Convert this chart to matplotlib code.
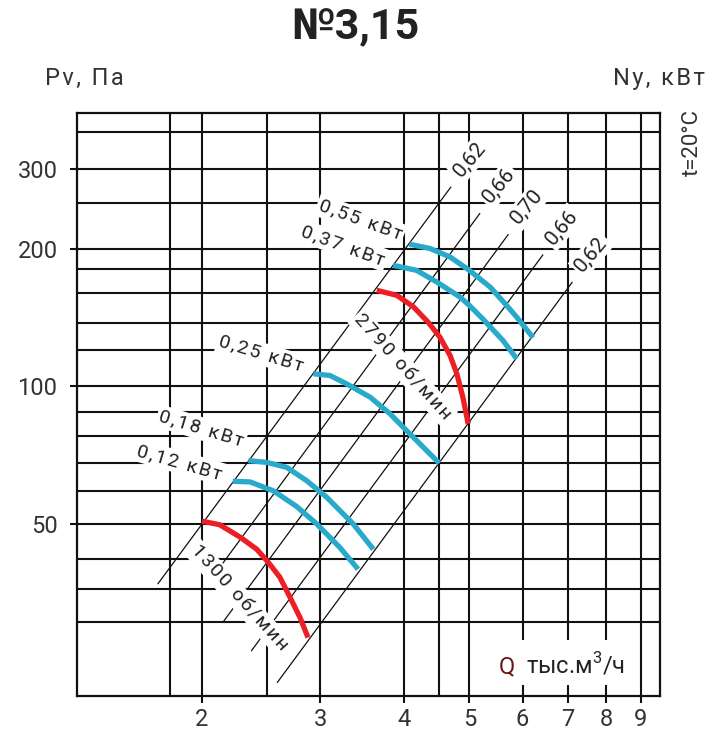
import matplotlib
matplotlib.use("Agg")
import matplotlib.pyplot as plt
from matplotlib.patches import Rectangle

plt.rcParams['font.family'] = ['Roboto', 'DejaVu Sans']
plt.rcParams['mathtext.fontset'] = 'custom'
plt.rcParams['mathtext.rm'] = 'Roboto'

# ---- axis layout values (Q, thousand m3/h ; Pv, Pa) ----
x_ticks = [2, 3, 4, 5, 6, 7, 8, 9]
y_ticks = [50, 100, 200, 300]
x_grid = [1.79, 2, 2.5, 3, 4, 4.5, 5, 6, 7, 8, 9]
y_grid = [30.5, 36, 42, 50, 59, 68, 78, 88, 100, 120, 138, 160, 181, 200, 252, 300, 360]

# ---- fan speed curves ----
rpm_labels = ['1300 об/мин', '2790 об/мин']
q_1300 = [2.00, 2.125, 2.278, 2.413, 2.51, 2.612, 2.705, 2.798, 2.876]
p_1300 = [50.7, 49.8, 46.8, 44.0, 41.2, 38.2, 34.5, 31.2, 28.2]
q_2790 = [3.64, 3.90, 4.13, 4.34, 4.52, 4.68, 4.79, 4.89, 4.98]
p_2790 = [162.4, 158.3, 149.3, 138.3, 128.2, 116.9, 106.6, 94.7, 82.8]

# ---- motor power curves ----
power_labels = ['0,12 кВт', '0,18 кВт', '0,25 кВт', '0,37 кВт', '0,55 кВт']
q_012 = [2.222, 2.358, 2.554, 2.766, 2.963, 3.208, 3.414]
p_012 = [62.0, 61.8, 59.1, 54.6, 50.0, 44.4, 39.8]
q_018 = [2.344, 2.496, 2.674, 2.862, 3.066, 3.358, 3.598]
p_018 = [68.8, 68.2, 66.5, 62.2, 57.2, 50.0, 44.0]
q_025 = [2.93, 3.10, 3.28, 3.56, 3.81, 4.03, 4.22, 4.51]
p_025 = [106.6, 105.7, 101.4, 94.7, 87.1, 80.1, 74.9, 67.9]
q_037 = [3.85, 4.17, 4.47, 4.84, 5.00, 5.25, 5.61, 5.88]
p_037 = [184.2, 179.6, 169.4, 157.0, 150.5, 140.0, 126.1, 115.0]
q_055 = [4.07, 4.37, 4.68, 5.00, 5.37, 5.68, 5.88, 6.22]
p_055 = [204.9, 200.5, 192.1, 179.6, 165.0, 150.5, 141.9, 127.9]

# ---- efficiency lines (start / end points) ----
eff_labels = ['0,62', '0,66', '0,70', '0,66', '0,62']
eff_q0 = [1.72, 2.10, 2.15, 2.37, 2.59]
eff_p0 = [37.0, 39.2, 30.5, 26.4, 22.5]
eff_q1 = [4.69, 5.18, 5.71, 6.43, 7.11]
eff_p1 = [273.0, 239.0, 215.0, 194.0, 169.0]

BLUE = '#2aaacb'
RED = '#ec2024'
INK = '#222222'
HAIR = '\u200a'


def spaced(s):
    """Loosen the letter spacing of a short label."""
    return HAIR.join(s)


fig = plt.figure(figsize=(7.10, 7.35), dpi=100)
ax = fig.add_axes([77 / 710, 1 - 696 / 735, 583 / 710, 583 / 735])
ax.set_xscale('log')
ax.set_yscale('log')
ax.set_xlim(1.303, 9.61)
ax.set_ylim(21.0, 397.0)

for s in ax.spines.values():
    s.set_linewidth(1.6)
    s.set_color('#111111')

ax.xaxis.set_major_locator(plt.FixedLocator(x_ticks))
ax.xaxis.set_major_formatter(plt.FixedFormatter([str(v) for v in x_ticks]))
ax.yaxis.set_major_locator(plt.FixedLocator(y_ticks))
ax.yaxis.set_major_formatter(plt.FixedFormatter([str(v) for v in y_ticks]))
ax.xaxis.set_minor_locator(plt.NullLocator())
ax.yaxis.set_minor_locator(plt.NullLocator())
ax.tick_params(axis='both', which='major', direction='out', length=5,
               width=1.5, color='#111111', labelcolor='#333333', labelsize=17)
ax.tick_params(axis='x', pad=4)
ax.tick_params(axis='y', pad=9)

# grid
for gx in x_grid:
    ax.axvline(gx, color='#111111', lw=1.5, zorder=1)
for gy in y_grid:
    ax.axhline(gy, color='#111111', lw=1.5, zorder=1)

# efficiency lines with labels beyond their upper ends
for lab, q0, p0, q1, p1 in zip(eff_labels, eff_q0, eff_p0, eff_q1, eff_p1):
    ax.plot([q0, q1], [p0, p1], color='#111111', lw=0.9, zorder=2)
    ax.annotate(lab, xy=(q1, p1), xytext=(19, 28), textcoords='offset pixels',
                ha='center', va='center', rotation=50, fontsize=15, color=INK,
                bbox=dict(boxstyle='square,pad=0.12', fc='white', ec='none'),
                zorder=4)

power_q = [q_012, q_018, q_025, q_037, q_055]
power_p = [p_012, p_018, p_025, p_037, p_055]
power_off = [(-53, 19), (-47, 32), (-52, 20), (-50, 20), (-49, 24)]
power_rot = [-16, -17, -17, -20, -20]
for lab, qs, ps, off, rot in zip(power_labels, power_q, power_p, power_off, power_rot):
    ax.plot(qs, ps, color=BLUE, lw=3.8, solid_capstyle='butt',
            solid_joinstyle='round', zorder=6)
    ax.annotate(spaced(lab), xy=(qs[0], ps[0]), xytext=off,
                textcoords='offset pixels', ha='center', va='center',
                rotation=rot, fontsize=14, color=INK,
                bbox=dict(boxstyle='square,pad=0.12', fc='white', ec='none'),
                zorder=4)

rpm_q = [q_1300, q_2790]
rpm_p = [p_1300, p_2790]
rpm_off = [(37, -77), (26, -77)]
for lab, qs, ps, off in zip(rpm_labels, rpm_q, rpm_p, rpm_off):
    ax.plot(qs, ps, color=RED, lw=3.8, solid_capstyle='butt',
            solid_joinstyle='round', zorder=6)
    ax.annotate(spaced(lab), xy=(qs[0], ps[0]), xytext=off,
                textcoords='offset pixels', ha='center', va='center',
                rotation=-48, fontsize=14, color=INK,
                bbox=dict(boxstyle='square,pad=0.12', fc='white', ec='none'),
                zorder=4)

# flow axis caption inside the plot, on a white patch
ax.add_patch(Rectangle((0.717, 0.019), 0.235, 0.077, transform=ax.transAxes,
                       fc='white', ec='none', zorder=3))
ax.text(0.7375, 0.050, 'Q', transform=ax.transAxes, ha='center', va='center',
        fontsize=17, color='#6b1414', zorder=5)
ax.text(0.855, 0.053, 'тыс.м$^3$/ч', transform=ax.transAxes, ha='center',
        va='center', fontsize=17, color=INK, zorder=5)

fig.text(0.5, 1 - 28 / 735, '№3,15', ha='center', va='center', fontsize=31,
         fontweight='bold', color='#222222')
fig.text(45 / 710, 1 - 78 / 735, spaced('Pv, Па'), ha='left', va='center',
         fontsize=17, color='#333333')
fig.text(705 / 710, 1 - 78 / 735, spaced('Ny, кВт'), ha='right', va='center',
         fontsize=17, color='#333333')
fig.text(692 / 710, 1 - 143 / 735, 't=20°C', ha='center', va='center',
         rotation=90, fontsize=16, color='#333333')

fig.savefig('out.png', dpi=100, facecolor='white')
